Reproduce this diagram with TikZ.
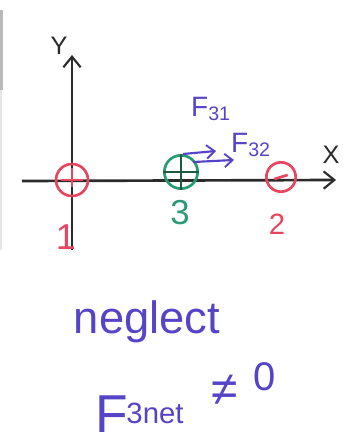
\documentclass[tikz,border=0pt]{standalone}
\usepackage{fontspec}
\setmainfont{Liberation Sans}
\usetikzlibrary{arrows.meta}
\definecolor{pen}{HTML}{5544C8}
\definecolor{rd}{HTML}{E8455E}
\definecolor{gr}{HTML}{2A9A72}
\definecolor{dgr}{HTML}{1F5A40}
\definecolor{ink}{HTML}{2B2B2B}
\tikzset{
  axis/.style={draw=ink, line width=2pt, -{Straight Barb[length=8pt,width=13pt,line width=1.6pt]}},
  charge/.style={circle, line width=2pt, minimum size=23pt, inner sep=0pt},
  force/.style={draw=pen, line width=1.6pt, -{Straight Barb[length=6pt,width=10pt,line width=1.4pt]}},
  hand/.style={inner sep=0pt}
}
\begin{document}
\begin{tikzpicture}[x=0.75pt,y=-0.75pt]
\useasboundingbox (0,0) rectangle (343,445);
\fill[gray!55] (0,10) rectangle (3,90);
\fill[gray!20] (0,90) rectangle (2,250);
% axes
\coordinate (xs) at (22,181);
\coordinate (xe) at (336,180);
\coordinate (ys) at (72,250);
\coordinate (ye) at (72,55);
\draw[axis] (xs) -- (xe);
\draw[axis] (ys) -- (ye);
\node[hand, text=ink, font=\fontsize{19}{19}\selectfont] (ylab) at (59,46) {Y};
\node[hand, text=ink, font=\fontsize{19}{19}\selectfont] (xlab) at (331,155) {X};
% charges
\node[charge, draw=rd, minimum size=24pt] (q1) at (72,180) {};
\draw[rd, line width=1.6pt] ([xshift=-8pt]q1.center) -- ([xshift=8pt]q1.center);
\draw[rd, line width=1.6pt] ([yshift=-5pt]q1.center) -- ([yshift=9pt]q1.center);
\node[charge, draw=gr, minimum size=25pt] (q3) at (181,172) {};
\draw[dgr, line width=1.8pt] (q3.west) -- (q3.east);
\draw[dgr, line width=1.8pt] (q3.north) -- (q3.south);
\node[charge, draw=rd, minimum size=22pt] (q2) at (281,177) {};
\draw[rd, line width=2pt] ([xshift=-5pt,yshift=-1.5pt]q2.center) -- ([xshift=5pt,yshift=1.5pt]q2.center);
% labels
\node[hand, text=rd, font=\fontsize{27}{27}\selectfont] (l1) at (66,237) {1};
\node[hand, text=gr, font=\fontsize{26}{26}\selectfont] (l3) at (180,213) {3};
\node[hand, text=rd, font=\fontsize{22}{22}\selectfont] (l2) at (277,224) {2};
% forces
\coordinate (f31s) at (183,154);
\coordinate (f31e) at (216,151);
\coordinate (f32s) at (193,162);
\coordinate (f32e) at (234,160);
\draw[force] (f31s) -- (f31e);
\draw[force] (f32s) -- (f32e);
\node[hand, text=pen, font=\fontsize{21}{21}\selectfont] (F31) at (211,109) {F\textsubscript{31}};
\node[hand, text=pen, font=\fontsize{21}{21}\selectfont] (F32) at (251,145) {F\textsubscript{32}};
% notes
\node[hand, text=pen, font=\fontsize{34}{34}\selectfont] (neg) at (147,322) {neglect};
\node[hand, text=pen, font=\fontsize{40}{40}\selectfont] (netF) at (112,414) {F};
\node[hand, text=pen, font=\fontsize{22}{22}\selectfont] (netsub) at (155,413) {3net};
\node[hand, text=pen, font=\fontsize{36}{36}\selectfont] (neq) at (225,390) {≠};
\node[hand, text=pen, font=\fontsize{30}{30}\selectfont] (zero) at (265,377) {0};
\end{tikzpicture}
\end{document}
